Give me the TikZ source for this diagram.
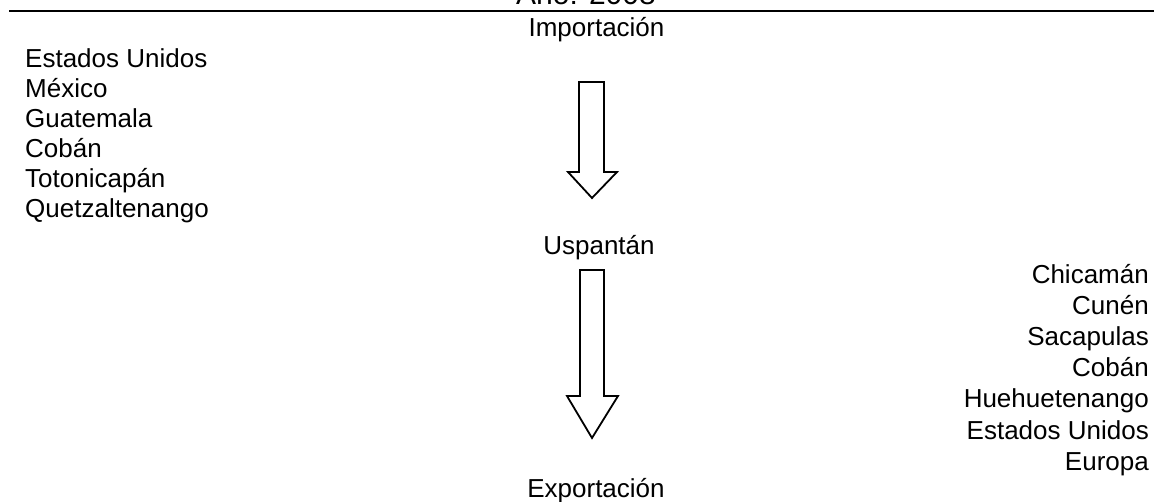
\documentclass[tikz,border=0pt]{standalone}
\usepackage{fontspec}
\setmainfont{Liberation Sans}
\tikzset{
  lbl/.style={inner sep=0pt, font=\fontsize{26}{30}\selectfont},
  blockarrow/.style={draw=black, line width=1.8pt, fill=white, line join=miter},
  rule/.style={draw=black, line width=1.6pt}
}
\begin{document}
\begin{tikzpicture}[x=1pt,y=-1pt]
\useasboundingbox[fill=white] (0,0) rectangle (1154,502);
% title (cut at the top edge, as in the reference)
\node[lbl, font=\fontsize{30}{34}\selectfont, anchor=base] (title) at (586,5) {Año: 2008};
\coordinate (ruleL) at (9,11);
\coordinate (ruleR) at (1154,11);
\draw[rule] (ruleL) -- (ruleR);
% centre column
\node[lbl, anchor=base] (imp) at (596.5,37) {Importación};
\node[lbl, anchor=base] (usp) at (599,255) {Uspantán};
\node[lbl, anchor=base] (exp) at (596,497) {Exportación};
% left list
\foreach \t [count=\i] in {Estados Unidos, México, Guatemala, Cobán, Totonicapán, Quetzaltenango}
  \node[lbl, anchor=base west] (L\i) at (25,{68+30*(\i-1)}) {\t};
% right list
\foreach \t [count=\i] in {Chicamán, Cunén, Sacapulas, Cobán, Huehuetenango, Estados Unidos, Europa}
  \node[lbl, anchor=base east] (R\i) at (1149,{284+31*(\i-1)}) {\t};
% block arrows
\coordinate (a1tip) at (592,198);
\draw[blockarrow] (579,82) -- (604,82) -- (604,172) -- (617,172) -- (a1tip) -- (568,172) -- (579,172) -- cycle;
\coordinate (a2tip) at (592,438);
\draw[blockarrow] (580,270) -- (604,270) -- (604,396) -- (618,396) -- (a2tip) -- (567,396) -- (580,396) -- cycle;
\end{tikzpicture}
\end{document}
